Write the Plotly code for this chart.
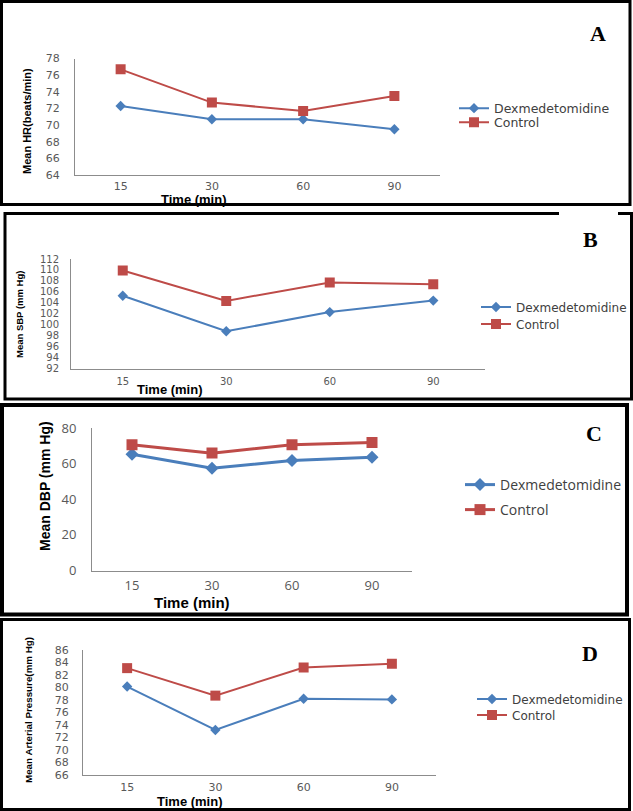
import plotly.graph_objects as go

W, H = 633, 811

# ---------------- data ----------------
time_labels = ["15", "30", "60", "90"]
series_names = ["Dexmedetomidine", "Control"]

hr_dex = [72.3, 70.7, 70.7, 69.5]
hr_ctrl = [76.7, 72.7, 71.7, 73.5]

sbp_dex = [105.3, 98.8, 102.3, 104.4]
sbp_ctrl = [109.9, 104.35, 107.7, 107.4]

dbp_dex = [65.3, 57.4, 61.7, 63.6]
dbp_ctrl = [70.6, 65.9, 70.6, 71.9]

map_dex = [80.15, 73.2, 78.2, 78.1]
map_ctrl = [83.1, 78.7, 83.2, 83.8]

panel_letters = ["A", "B", "C", "D"]
y_titles = ["Mean HR(beats/min)", "Mean SBP (mm Hg)", "Mean DBP (mm Hg)",
            "Mean Arterial Pressure(mm Hg)"]
x_title = "Time (min)"
y_ranges = [(64, 78), (92, 112), (0, 80), (66, 86)]
y_dticks = [2, 2, 20, 2]

BLUE = "#4A7EBB"
RED = "#BE4B48"


def X(px):
    return px / W


def Y(py):
    return 1 - py / H


# layout geometry per panel (pixels)
panels = [
    dict(dex=hr_dex, ctrl=hr_ctrl, x0=75, x1=440, top=58.5, bot=175,
         border=(1.5, 1.5, 630, 204.5), lw=2, dsz=8, ssz=10,
         tickfont=dict(family="DejaVu Sans", size=11, color="#595959"),
         legfont=dict(family="DejaVu Sans", size=12.5, color="#404040"),
         leg_x=454, leg_y=(108.5, 122.5), letter=(598, 33),
         xt=(194, 199, 13), yt=(27, 121, 11),
         ystand=12, xstand=1),
    dict(dex=sbp_dex, ctrl=sbp_ctrl, x0=71, x1=485, top=259, bot=368.5,
         border=(5, 213.5, 631.5, 399), lw=2, dsz=8, ssz=10,
         tickfont=dict(family="DejaVu Sans", size=10, color="#595959"),
         legfont=dict(family="DejaVu Sans", size=12, color="#404040"),
         leg_x=476, leg_y=(307, 324), letter=(590, 240),
         xt=(170, 389, 13), yt=(19, 315, 9.5),
         ystand=9, xstand=3),
    dict(dex=dbp_dex, ctrl=dbp_ctrl, x0=92, x1=412, top=428, bot=570.5,
         border=(2, 405, 627, 614.5), lw=3, dsz=10, ssz=11,
         tickfont=dict(family="Open Sans", size=13, color="#595959"),
         legfont=dict(family="Open Sans", size=14, color="#404040"),
         leg_x=460, leg_y=(485, 510), letter=(594, 433),
         xt=(192, 602, 15), yt=(45, 486, 14),
         ystand=12, xstand=3),
    dict(dex=map_dex, ctrl=map_ctrl, x0=83, x1=436, top=650, bot=775,
         border=(1.5, 619.5, 629.5, 809.5), lw=2, dsz=8, ssz=10,
         tickfont=dict(family="DejaVu Sans", size=11, color="#595959"),
         legfont=dict(family="DejaVu Sans", size=12, color="#404040"),
         leg_x=472, leg_y=(699, 715), letter=(590, 653),
         xt=(190, 801, 13), yt=(28, 710, 9.8),
         ystand=11, xstand=2),
]

fig = go.Figure()
layout = dict(
    width=W, height=H, margin=dict(l=0, r=0, t=0, b=0, autoexpand=False),
    paper_bgcolor="white", plot_bgcolor="white", showlegend=True,
)
shapes = []
annotations = []

leg_idx = 0
for i, p in enumerate(panels):
    n = "" if i == 0 else str(i + 1)
    xa, ya = "x" + n, "y" + n
    for k, (vals, color, sym, sz) in enumerate([
            (p["dex"], BLUE, "diamond", p["dsz"]),
            (p["ctrl"], RED, "square", p["ssz"])]):
        leg_idx += 1
        lname = "legend" if leg_idx == 1 else f"legend{leg_idx}"
        fig.add_trace(go.Scatter(
            x=time_labels, y=vals, name=series_names[k], mode="lines+markers",
            line=dict(color=color, width=p["lw"]),
            marker=dict(symbol=sym, size=sz, color=color),
            xaxis=xa, yaxis=ya, legend=lname, hoverinfo="skip"))
        layout[lname] = dict(
            x=X(p["leg_x"]), y=Y(p["leg_y"][k]), xanchor="left", yanchor="middle",
            bgcolor="rgba(0,0,0,0)", borderwidth=0, font=p["legfont"],
            tracegroupgap=0, itemwidth=30)
    layout["xaxis" + n] = dict(
        domain=[X(p["x0"]), X(p["x1"])], anchor=ya, type="category",
        range=[-0.5, 3.5], showgrid=False, zeroline=False, showline=True,
        linecolor="#8C8C8C", linewidth=1, ticks="", tickfont=p["tickfont"],
        ticklabelstandoff=p["xstand"], fixedrange=True, automargin=False)
    layout["yaxis" + n] = dict(
        domain=[Y(p["bot"]), Y(p["top"])], anchor=xa, range=list(y_ranges[i]),
        dtick=y_dticks[i], tick0=y_ranges[i][0], showgrid=False, zeroline=False,
        showline=True, linecolor="#8C8C8C", linewidth=1, ticks="",
        tickfont=p["tickfont"], ticklabelstandoff=p["ystand"], fixedrange=True,
        automargin=False)

    bx0, by0, bx1, by1 = p["border"]
    shapes.append(dict(type="rect", xref="paper", yref="paper",
                       x0=X(bx0), x1=X(bx1), y0=Y(by1), y1=Y(by0),
                       line=dict(color="black", width=3 if i != 2 else 4),
                       fillcolor="rgba(0,0,0,0)", layer="above"))
    lx, ly = p["letter"]
    annotations.append(dict(
        text="<b>%s</b>" % panel_letters[i], x=X(lx), y=Y(ly), xref="paper",
        yref="paper", showarrow=False, xanchor="center", yanchor="middle",
        font=dict(family="Liberation Serif", size=22, color="black")))
    tx, ty, ts = p["xt"]
    annotations.append(dict(
        text="<b>%s</b>" % x_title, x=X(tx), y=Y(ty), xref="paper", yref="paper",
        showarrow=False, xanchor="center", yanchor="middle",
        font=dict(family="Liberation Sans", size=ts, color="black")))
    yx, yy, ys = p["yt"]
    annotations.append(dict(
        text="<b>%s</b>" % y_titles[i], x=X(yx), y=Y(yy), xref="paper", yref="paper",
        showarrow=False, xanchor="center", yanchor="middle", textangle=-90,
        font=dict(family="Liberation Sans", size=ys, color="black")))

# small white gap in the top border of panel B
shapes.append(dict(type="line", xref="paper", yref="paper",
                   x0=X(559), x1=X(618), y0=Y(213.5), y1=Y(213.5),
                   line=dict(color="white", width=4), layer="above"))

layout["shapes"] = shapes
layout["annotations"] = annotations
fig.update_layout(**layout)

fig.write_html("out.html", config=dict(displayModeBar=False),
               post_script="document.body.style.margin='0';")
